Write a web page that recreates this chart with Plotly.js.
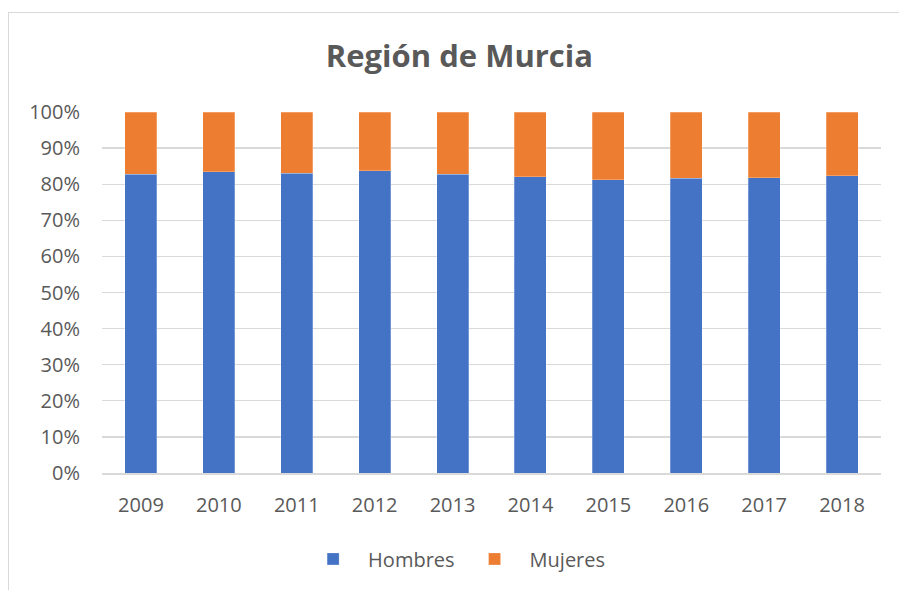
<!DOCTYPE html>
<html>
<head>
<meta charset="utf-8">
<script src="https://cdn.plot.ly/plotly-3.0.1.min.js"></script>
<style>
html,body{margin:0;padding:0;background:#fff;}
#wrap{position:relative;width:899px;height:590px;overflow:hidden;}
#frame{position:absolute;left:8px;top:12px;width:1000px;height:700px;border-left:1px solid #d9d9d9;border-top:1px solid #d9d9d9;box-sizing:border-box;}
#chart{position:absolute;left:0;top:0;width:899px;height:590px;}
</style>
</head>
<body>
<div id="wrap"><div id="frame"></div><div id="chart"></div></div>
<script>
const years = ['2009','2010','2011','2012','2013','2014','2015','2016','2017','2018'];
const hombres = [82.8, 83.5, 83.1, 83.7, 82.7, 82.1, 81.2, 81.6, 81.75, 82.3];
const mujeres = [17.2, 16.5, 16.9, 16.3, 17.3, 17.9, 18.8, 18.4, 18.25, 17.7];
const yTicks = [0,10,20,30,40,50,60,70,80,90,100];
const yTickText = ['0%','10%','20%','30%','40%','50%','60%','70%','80%','90%','100%'];

const font = 'Open Sans, sans-serif';
const traces = [
  {type:'bar', name:'Hombres', x:years, y:hombres, marker:{color:'#4472C4', line:{color:'rgba(255,255,255,0.5)', width:0.5}}, hoverinfo:'none'},
  {type:'bar', name:'Mujeres', x:years, y:mujeres, marker:{color:'#ED7D31', line:{color:'rgba(255,255,255,0.5)', width:0.5}}, hoverinfo:'none'}
];
const layout = {
  width:899, height:590,
  paper_bgcolor:'rgba(0,0,0,0)', plot_bgcolor:'rgba(0,0,0,0)',
  margin:{l:102, r:18, t:112, b:117},
  barmode:'stack', bargap:0.59,
  showlegend:true,
  title:{text:'<b>Región de Murcia</b>', x:0.511, xanchor:'center', y:0.905, yanchor:'middle', font:{family:font, size:31, color:'#595959'}},
  xaxis:{type:'category', tickfont:{family:font, size:20, color:'#595959'}, ticks:'', ticklabelstandoff:13, showline:true, linecolor:'#d9d9d9', linewidth:1.5, showgrid:false, fixedrange:true},
  yaxis:{range:[0,100], tickvals:yTicks, ticktext:yTickText, tickfont:{family:font, size:20, color:'#595959'}, ticks:'', ticklabelstandoff:21, showgrid:true, gridcolor:'#d9d9d9', gridwidth:1.3, zeroline:false, fixedrange:true},
  legend:{orientation:'h', x:0.452, xanchor:'center', y:-0.238, yanchor:'middle', font:{family:font, size:20, color:'#595959'}, itemwidth:60, traceorder:'normal'}
};
Plotly.newPlot('chart', traces, layout, {staticPlot:true});
</script>
</body>
</html>
